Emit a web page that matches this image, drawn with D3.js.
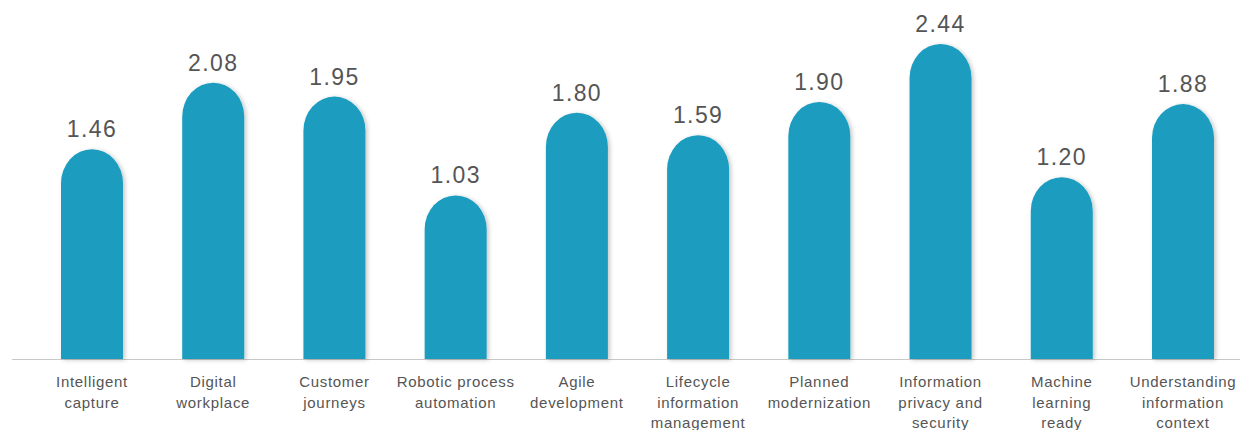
<!DOCTYPE html>
<html>
<head>
<meta charset="utf-8">
<script src="https://cdn.jsdelivr.net/npm/d3@7/dist/d3.min.js"></script>
<style>
  html, body { margin: 0; padding: 0; background: #ffffff; }
  svg { display: block; }
</style>
</head>
<body>
<svg id="chart" width="1248" height="430"></svg>
<script>
const categories = [
  "Intelligent capture", "Digital workplace", "Customer journeys",
  "Robotic process automation", "Agile development",
  "Lifecycle information management", "Planned modernization",
  "Information privacy and security", "Machine learning ready",
  "Understanding information context"
];
const labelLines = [
  ["Intelligent", "capture"],
  ["Digital", "workplace"],
  ["Customer", "journeys"],
  ["Robotic process", "automation"],
  ["Agile", "development"],
  ["Lifecycle", "information", "management"],
  ["Planned", "modernization"],
  ["Information", "privacy and", "security"],
  ["Machine", "learning", "ready"],
  ["Understanding", "information", "context"]
];
const values = [1.46, 2.08, 1.95, 1.03, 1.80, 1.59, 1.90, 2.44, 1.20, 1.88];
const valueLabels = ["1.46", "2.08", "1.95", "1.03", "1.80", "1.59", "1.90", "2.44", "1.20", "1.88"];

const svg = d3.select("#chart");
const baseY = 359;
const barW = 62;

const x = d3.scalePoint().domain(categories).range([92, 1183]);
const y = d3.scaleLinear().domain([-0.494, 2.44]).range([baseY, 44]);

const defs = svg.append("defs");
const f = defs.append("filter").attr("id", "shadow")
  .attr("x", "-20%").attr("y", "-10%").attr("width", "150%").attr("height", "130%");
f.append("feDropShadow").attr("dx", 2).attr("dy", 1).attr("stdDeviation", 2)
  .attr("flood-color", "#000").attr("flood-opacity", 0.22);

// baseline
svg.append("line")
  .attr("x1", 12).attr("x2", 1240)
  .attr("y1", baseY + 0.5).attr("y2", baseY + 0.5)
  .attr("stroke", "#c8c8c8").attr("stroke-width", 1);

const rx = barW / 2, ry = 34;
function barPath(d, i) {
  const cx = x(categories[i]);
  const top = y(d);
  const l = cx - rx, r = cx + rx;
  return `M${l},${baseY} L${l},${top + ry} A${rx},${ry} 0 0 1 ${r},${top + ry} L${r},${baseY} Z`;
}

svg.append("g").selectAll("path")
  .data(values)
  .join("path")
  .attr("d", barPath)
  .attr("fill", "#1a9dc0")
  .attr("filter", "url(#shadow)");

// value labels
svg.append("g").selectAll("text")
  .data(values)
  .join("text")
  .attr("x", (d, i) => x(categories[i]))
  .attr("y", d => y(d) - 12)
  .attr("text-anchor", "middle")
  .attr("font-family", "Liberation Sans, Arial, sans-serif")
  .attr("font-size", 23)
  .attr("letter-spacing", 1.4)
  .attr("fill", "#555")
  .text((d, i) => valueLabels[i]);

// category labels
const lab = svg.append("g").selectAll("text")
  .data(categories)
  .join("text")
  .attr("text-anchor", "middle")
  .attr("font-family", "Liberation Sans, Arial, sans-serif")
  .attr("font-size", 15)
  .attr("letter-spacing", 0.7)
  .attr("fill", "#555");

lab.each(function(c, i) {
  const t = d3.select(this);
  labelLines[i].forEach((ln, k) => {
    t.append("tspan")
      .attr("x", x(c))
      .attr("y", 387 + k * 20.5)
      .text(ln);
  });
});
</script>
</body>
</html>
